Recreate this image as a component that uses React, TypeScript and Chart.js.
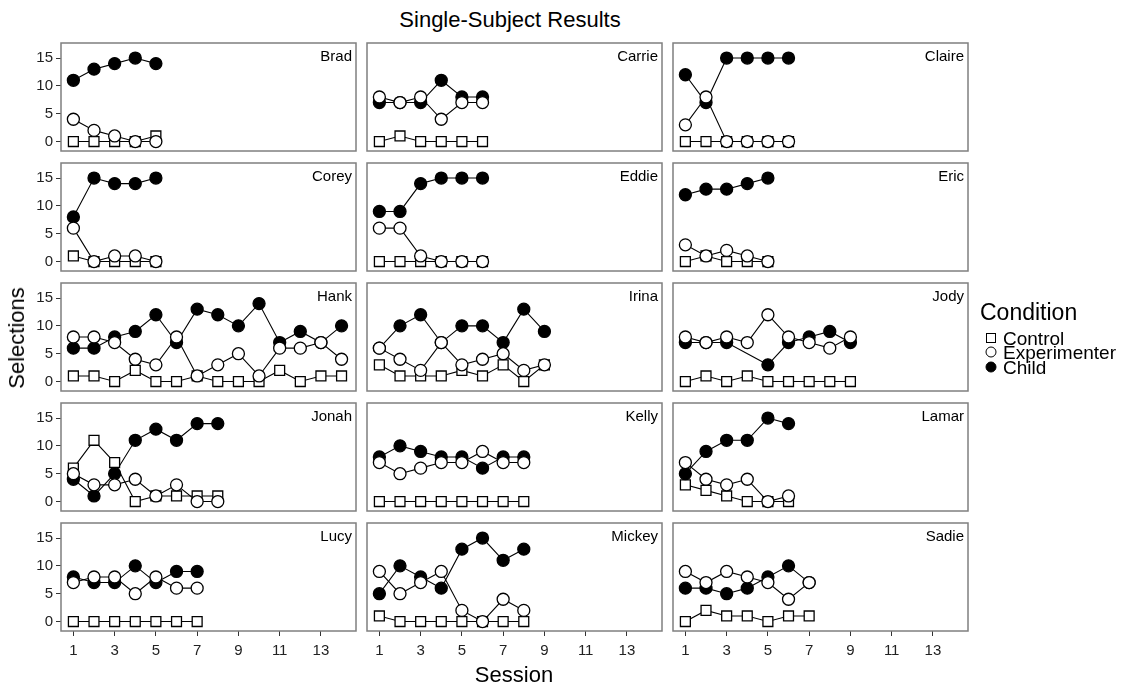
import React, { useEffect, useRef } from 'react';
import { Chart, registerables } from 'chart.js';

Chart.register(...registerables);

// ---------- data ----------
const sessions = [1, 2, 3, 4, 5, 6, 7, 8, 9, 10, 11, 12, 13, 14];
const xTickLabels = [1, 3, 5, 7, 9, 11, 13];
const yTickLabels = [0, 5, 10, 15];
const conditions = ['Control', 'Experimenter', 'Child'];

const bradControl = [0, 0, 0, 0, 1];
const bradExperimenter = [4, 2, 1, 0, 0];
const bradChild = [11, 13, 14, 15, 14];

const carrieControl = [0, 1, 0, 0, 0, 0];
const carrieExperimenter = [8, 7, 8, 4, 7, 7];
const carrieChild = [7, 7, 7, 11, 8, 8];

const claireControl = [0, 0, 0, 0, 0, 0];
const claireExperimenter = [3, 8, 0, 0, 0, 0];
const claireChild = [12, 7, 15, 15, 15, 15];

const coreyControl = [1, 0, 0, 0, 0];
const coreyExperimenter = [6, 0, 1, 1, 0];
const coreyChild = [8, 15, 14, 14, 15];

const eddieControl = [0, 0, 0, 0, 0, 0];
const eddieExperimenter = [6, 6, 1, 0, 0, 0];
const eddieChild = [9, 9, 14, 15, 15, 15];

const ericControl = [0, 1, 0, 0, 0];
const ericExperimenter = [3, 1, 2, 1, 0];
const ericChild = [12, 13, 13, 14, 15];

const hankControl = [1, 1, 0, 2, 0, 0, 1, 0, 0, 0, 2, 0, 1, 1];
const hankExperimenter = [8, 8, 7, 4, 3, 8, 1, 3, 5, 1, 6, 6, 7, 4];
const hankChild = [6, 6, 8, 9, 12, 7, 13, 12, 10, 14, 7, 9, 7, 10];

const irinaControl = [3, 1, 1, 1, 2, 1, 3, 0, 3];
const irinaExperimenter = [6, 4, 2, 7, 3, 4, 5, 2, 3];
const irinaChild = [6, 10, 12, 7, 10, 10, 7, 13, 9];

const jodyControl = [0, 1, 0, 1, 0, 0, 0, 0, 0];
const jodyExperimenter = [8, 7, 8, 7, 12, 8, 7, 6, 8];
const jodyChild = [7, 7, 7, null, 3, 7, 8, 9, 7];

const jonahControl = [6, 11, 7, 0, 1, 1, 1, 1];
const jonahExperimenter = [5, 3, 3, 4, 1, 3, 0, 0];
const jonahChild = [4, 1, 5, 11, 13, 11, 14, 14];

const kellyControl = [0, 0, 0, 0, 0, 0, 0, 0];
const kellyExperimenter = [7, 5, 6, 7, 7, 9, 7, 7];
const kellyChild = [8, 10, 9, 8, 8, 6, 8, 8];

const lamarControl = [3, 2, 1, 0, 0, 0];
const lamarExperimenter = [7, 4, 3, 4, 0, 1];
const lamarChild = [5, 9, 11, 11, 15, 14];

const lucyControl = [0, 0, 0, 0, 0, 0, 0];
const lucyExperimenter = [7, 8, 8, 5, 8, 6, 6];
const lucyChild = [8, 7, 7, 10, 7, 9, 9];

const mickeyControl = [1, 0, 0, 0, 0, 0, 0, 0];
const mickeyExperimenter = [9, 5, 7, 9, 2, 0, 4, 2];
const mickeyChild = [5, 10, 8, 6, 13, 15, 11, 13];

const sadieControl = [0, 2, 1, 1, 0, 1, 1];
const sadieExperimenter = [9, 7, 9, 8, 7, 4, 7];
const sadieChild = [6, 6, 5, 6, 8, 10, 7];

const subjectNames = ['Brad', 'Carrie', 'Claire', 'Corey', 'Eddie', 'Eric', 'Hank', 'Irina', 'Jody', 'Jonah', 'Kelly', 'Lamar', 'Lucy', 'Mickey', 'Sadie'];
const controlSeries = [bradControl, carrieControl, claireControl, coreyControl, eddieControl, ericControl, hankControl, irinaControl, jodyControl, jonahControl, kellyControl, lamarControl, lucyControl, mickeyControl, sadieControl];
const experimenterSeries = [bradExperimenter, carrieExperimenter, claireExperimenter, coreyExperimenter, eddieExperimenter, ericExperimenter, hankExperimenter, irinaExperimenter, jodyExperimenter, jonahExperimenter, kellyExperimenter, lamarExperimenter, lucyExperimenter, mickeyExperimenter, sadieExperimenter];
const childSeries = [bradChild, carrieChild, claireChild, coreyChild, eddieChild, ericChild, hankChild, irinaChild, jodyChild, jonahChild, kellyChild, lamarChild, lucyChild, mickeyChild, sadieChild];

// ---------- layout ----------
const FONT = '"Liberation Sans", Arial, Helvetica, sans-serif';
const COL_LEFTS = [61, 367, 673];
const ROW_TOPS = [43, 163, 283, 403, 523];
const PW = 295;
const PH = 108;
const PAD = 3;
const X_MIN = 0.4;
const X_MAX = 14.7;
const Y_MIN = -1.7;
const Y_MAX = 17.7;

const framePlugin = {
  id: 'frame',
  afterDraw(chart: any) {
    const { ctx, chartArea } = chart;
    const { left, top, right, bottom } = chartArea;
    ctx.save();
    ctx.strokeStyle = '#7f7f7f';
    ctx.lineWidth = 1.5;
    ctx.strokeRect(left, top, right - left, bottom - top);
    ctx.restore();
  },
};

function toPoints(values: (number | null)[]) {
  const pts: { x: number; y: number }[] = [];
  values.forEach((v, i) => {
    if (v !== null && v !== undefined) pts.push({ x: sessions[i], y: v });
  });
  return pts;
}

function Panel(props: { idx: number }) {
  const { idx } = props;
  const ref = useRef<HTMLCanvasElement>(null);
  const col = idx % 3;
  const row = Math.floor(idx / 3);
  const showY = col === 0;
  const showX = row === 4;
  const axisW = showY ? COL_LEFTS[0] : 0;
  const axisH = showX ? 40 : 0;
  const left = COL_LEFTS[col] - axisW - PAD;
  const top = ROW_TOPS[row] - PAD;
  const width = axisW + PW + 2 * PAD;
  const height = PH + axisH + 2 * PAD;

  useEffect(() => {
    if (!ref.current) return;
    const ctrl = toPoints(controlSeries[idx]);
    const expr = toPoints(experimenterSeries[idx]);
    const chld = toPoints(childSeries[idx]);
    const lineDs = (label: string, data: any[], order: number) => ({
      label,
      data,
      showLine: true,
      borderColor: '#000',
      borderWidth: 1.1,
      pointRadius: 0,
      fill: false,
      order,
    });
    const datasets: any[] = [
      lineDs(conditions[0] + ' line', ctrl, 12),
      lineDs(conditions[1] + ' line', expr, 11),
      lineDs(conditions[2] + ' line', chld, 10),
      {
        label: conditions[1],
        data: expr,
        showLine: false,
        pointStyle: 'circle',
        pointRadius: 6,
        pointBackgroundColor: '#fff',
        pointBorderColor: '#000',
        pointBorderWidth: 1.3,
        order: 0,
      },
      {
        label: conditions[2],
        data: chld,
        showLine: false,
        pointStyle: 'circle',
        pointRadius: 6,
        pointBackgroundColor: '#000',
        pointBorderColor: '#000',
        pointBorderWidth: 1.3,
        order: 1,
      },
      {
        label: conditions[0],
        data: ctrl,
        showLine: false,
        pointStyle: 'rect',
        pointRadius: 7,
        pointBackgroundColor: '#fff',
        pointBorderColor: '#000',
        pointBorderWidth: 1.3,
        order: 2,
      },
    ];
    const chart = new Chart(ref.current, {
      type: 'scatter',
      data: { datasets },
      options: {
        responsive: false,
        animation: false,
        events: [],
        layout: { padding: PAD, autoPadding: false },
        plugins: { legend: { display: false }, tooltip: { enabled: false } },
        scales: {
          x: {
            type: 'linear',
            min: X_MIN,
            max: X_MAX,
            display: showX,
            afterBuildTicks: (s: any) => {
              s.ticks = xTickLabels.map((v) => ({ value: v }));
            },
            afterFit: (s: any) => {
              s.height = axisH;
              s.paddingLeft = 0;
              s.paddingRight = 0;
              s.paddingTop = 0;
              s.paddingBottom = 0;
            },
            grid: { display: true, drawOnChartArea: false, drawTicks: true, tickLength: 5, color: '#333', lineWidth: 1 },
            border: { display: false },
            ticks: { color: '#222', font: { family: FONT, size: 15 }, padding: 6, maxRotation: 0, autoSkip: false },
          },
          y: {
            type: 'linear',
            min: Y_MIN,
            max: Y_MAX,
            display: showY,
            afterBuildTicks: (s: any) => {
              s.ticks = yTickLabels.map((v) => ({ value: v }));
            },
            afterFit: (s: any) => {
              s.width = axisW;
              s.paddingLeft = 0;
              s.paddingRight = 0;
              s.paddingTop = 0;
              s.paddingBottom = 0;
            },
            grid: { display: true, drawOnChartArea: false, drawTicks: true, tickLength: 5, color: '#333', lineWidth: 1 },
            border: { display: false },
            ticks: { color: '#222', font: { family: FONT, size: 15 }, padding: 3, autoSkip: false },
          },
        },
      },
      plugins: [framePlugin],
    } as any);
    return () => chart.destroy();
  }, [idx]);

  return (
    <>
      <canvas
        ref={ref}
        width={width}
        height={height}
        style={{ position: 'absolute', left, top, width, height }}
      />
      <div
        style={{
          position: 'absolute',
          left: COL_LEFTS[col],
          width: PW - 4,
          top: ROW_TOPS[row] + 5,
          textAlign: 'right',
          font: `15px ${FONT}`,
          lineHeight: '15px',
          color: '#000',
        }}
      >
        {subjectNames[idx]}
      </div>
    </>
  );
}

function LegendItem(props: { label: string; kind: number; y: number }) {
  const { label, kind, y } = props;
  const marker: React.CSSProperties =
    kind === 0
      ? { width: 8, height: 8, border: '1.4px solid #000', background: '#fff' }
      : { width: 9, height: 9, border: '1.4px solid #000', borderRadius: '50%', background: kind === 2 ? '#000' : '#fff' };
  return (
    <>
      <div style={{ position: 'absolute', left: 991, top: y, transform: 'translate(-50%, -50%)', ...marker }} />
      <div style={{ position: 'absolute', left: 1003, top: y, transform: 'translateY(-50%)', font: `19px ${FONT}`, lineHeight: '19px', color: '#000', whiteSpace: 'nowrap' }}>
        {label}
      </div>
    </>
  );
}

export default function App() {
  return (
    <div style={{ position: 'absolute', left: 0, top: 0, width: 1134, height: 688, background: '#fff', overflow: 'hidden' }}>
      <div style={{ position: 'absolute', left: 0, width: 1020, top: 20, transform: 'translateY(-50%)', textAlign: 'center', font: `22px ${FONT}`, lineHeight: '22px', color: '#000' }}>
        Single-Subject Results
      </div>
      {subjectNames.map((_, i) => (
        <Panel key={i} idx={i} />
      ))}
      <div style={{ position: 'absolute', left: 17, top: 338, transform: 'translate(-50%, -50%) rotate(-90deg)', font: `22px ${FONT}`, lineHeight: '22px', color: '#000', whiteSpace: 'nowrap' }}>
        Selections
      </div>
      <div style={{ position: 'absolute', left: 0, width: 1028, top: 675, transform: 'translateY(-50%)', textAlign: 'center', font: `22px ${FONT}`, lineHeight: '22px', color: '#000' }}>
        Session
      </div>
      <div style={{ position: 'absolute', left: 980, top: 312, transform: 'translateY(-50%)', font: `23px ${FONT}`, lineHeight: '23px', color: '#000' }}>
        Condition
      </div>
      <LegendItem label={conditions[0]} kind={0} y={338} />
      <LegendItem label={conditions[1]} kind={1} y={352} />
      <LegendItem label={conditions[2]} kind={2} y={367} />
    </div>
  );
}
